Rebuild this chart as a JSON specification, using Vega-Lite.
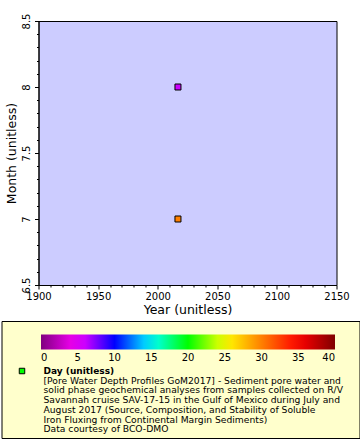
{
  "$schema": "https://vega.github.io/schema/vega-lite/v6.json",
  "background": "white",
  "padding": {"left": 0.5, "top": 12, "right": 0, "bottom": 0},
  "spacing": 4,
  "datasets": {
    "samples": [
      {"year": 2017, "month": 7, "day": 30},
      {"year": 2017, "month": 8, "day": 6}
    ],
    "legendRows": [
      {"part": "marker", "role": "symbol", "line": 0, "text": ""},
      {"part": "text", "role": "title", "line": 0, "text": "Day (unitless)"},
      {"part": "text", "role": "body", "line": 1, "text": "[Pore Water Depth Profiles GoM2017] - Sediment pore water and"},
      {"part": "text", "role": "body", "line": 2, "text": "solid phase geochemical analyses from samples collected on R/V"},
      {"part": "text", "role": "body", "line": 3, "text": "Savannah cruise SAV-17-15 in the Gulf of Mexico during July and"},
      {"part": "text", "role": "body", "line": 4, "text": "August 2017 (Source, Composition, and Stability of Soluble"},
      {"part": "text", "role": "body", "line": 5, "text": "Iron Fluxing from Continental Margin Sediments)"},
      {"part": "text", "role": "body", "line": 6, "text": "Data courtesy of BCO-DMO"}
    ]
  },
  "config": {
    "font": "DejaVu Sans",
    "axis": {
      "labelFont": "DejaVu Sans",
      "titleFont": "DejaVu Sans",
      "labelColor": "black",
      "titleColor": "black",
      "domainColor": "black",
      "tickColor": "black",
      "labelFontSize": 10,
      "titleFontSize": 12.5,
      "titleFontWeight": "normal",
      "grid": false,
      "labelOverlap": false,
      "labelFlush": false
    },
    "legend": {"labelFont": "DejaVu Sans", "labelColor": "black"}
  },
  "vconcat": [
    {
      "hconcat": [
        {
          "width": 2.3,
          "height": 1,
          "view": {"stroke": null, "fill": null},
          "data": {"values": []},
          "mark": {"type": "point", "opacity": 0}
        },
        {
          "width": 298,
          "height": 264,
          "view": {"fill": "#ccccff", "stroke": "black", "strokeWidth": 1},
          "data": {"name": "samples"},
          "mark": {"type": "square", "size": 36, "stroke": "black", "strokeWidth": 1, "opacity": 1, "filled": true},
          "encoding": {
            "x": {
              "field": "year", "type": "quantitative",
              "scale": {"domain": [1900, 2150], "nice": false, "zero": false},
              "axis": {
                "title": "Year (unitless)",
                "format": "d",
                "values": [1900,1910,1920,1930,1940,1950,1960,1970,1980,1990,2000,2010,2020,2030,2040,2050,2060,2070,2080,2090,2100,2110,2120,2130,2140,2150],
                "labelExpr": "datum.value % 50 === 0 ? datum.label : ''",
                "tickSize": {"condition": {"test": "datum.value % 50 === 0", "value": 4}, "value": 2},
                "labelPadding": 2,
                "titlePadding": 2
              }
            },
            "y": {
              "field": "month", "type": "quantitative",
              "scale": {"domain": [6.5, 8.5], "nice": false, "zero": false},
              "axis": {
                "title": "Month (unitless)",
                "format": ".1~f",
                "values": [6.5,6.6,6.7,6.8,6.9,7.0,7.1,7.2,7.3,7.4,7.5,7.6,7.7,7.8,7.9,8.0,8.1,8.2,8.3,8.4,8.5],
                "labelExpr": "abs(datum.value * 2 - round(datum.value * 2)) < 0.001 ? datum.label : ''",
                "tickSize": {"condition": {"test": "abs(datum.value * 2 - round(datum.value * 2)) < 0.001", "value": 4}, "value": 2},
                "labelAngle": 270,
                "labelAlign": "center",
                "labelBaseline": "bottom",
                "labelPadding": 3,
                "titlePadding": 3
              }
            },
            "fill": {
              "field": "day", "type": "quantitative",
              "scale": {
                "type": "linear",
                "domain": [0, 5, 10, 15, 20, 25, 30, 35, 40],
                "range": ["#800080", "#ff00ff", "#0000ff", "#00ffff", "#00ff00", "#ffff00", "#ff8000", "#ff0000", "#800000"],
                "interpolate": "rgb"
              },
              "legend": {
                "orient": "none",
                "legendX": 39.5,
                "legendY": 313.5,
                "direction": "horizontal",
                "gradientLength": 294,
                "gradientThickness": 15,
                "gradientStrokeWidth": 0,
                "title": null,
                "values": [0, 5, 10, 15, 20, 25, 30, 35, 40],
                "labelFontSize": 10,
                "labelOffset": 3,
                "padding": 0
              }
            }
          }
        }
      ],
      "spacing": 0
    },
    {
      "width": 358,
      "height": 117,
      "view": {"fill": "#ffffcc", "stroke": "black", "strokeWidth": 1},
      "data": {"name": "legendRows"},
      "encoding": {
        "x": {"field": "part", "type": "nominal", "scale": {"type": "point", "domain": ["marker", "text"], "range": [20.5, 42], "padding": 0}, "axis": null},
        "y": {"field": "line", "type": "quantitative", "scale": {"domain": [0, 6], "range": [50, 108.2]}, "axis": null}
      },
      "layer": [
        {
          "transform": [{"filter": "datum.role === 'symbol'"}],
          "mark": {"type": "square", "size": 30, "fill": "#00ff00", "stroke": "black", "strokeWidth": 1, "opacity": 1}
        },
        {
          "transform": [{"filter": "datum.role === 'title'"}],
          "mark": {"type": "text", "align": "left", "baseline": "middle", "fontSize": 9, "fontWeight": "bold", "font": "DejaVu Sans", "color": "black"},
          "encoding": {"text": {"field": "text"}}
        },
        {
          "transform": [{"filter": "datum.role === 'body'"}],
          "mark": {"type": "text", "align": "left", "baseline": "middle", "fontSize": 9.2, "font": "DejaVu Sans", "color": "black"},
          "encoding": {"text": {"field": "text"}}
        }
      ]
    }
  ]
}
